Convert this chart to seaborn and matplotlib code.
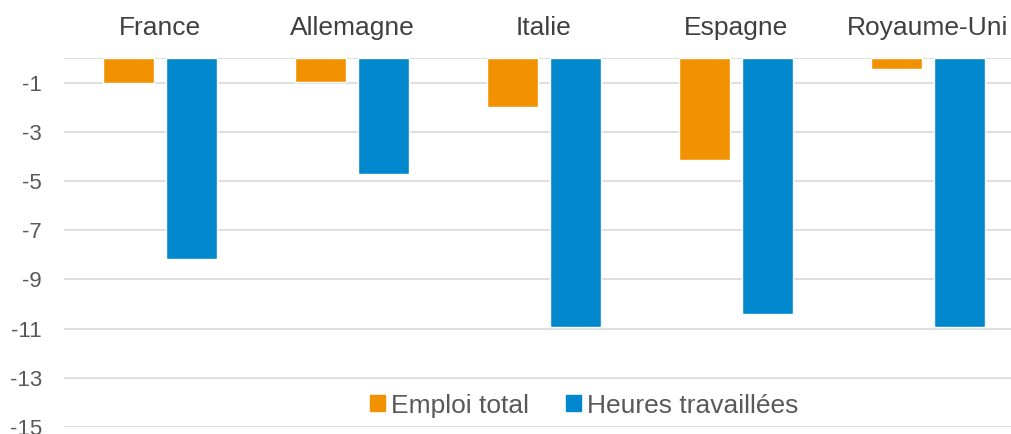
import numpy as np
import pandas as pd
import matplotlib
matplotlib.use("Agg")
import matplotlib.pyplot as plt
from matplotlib.patches import Rectangle
import seaborn as sns

pays = ["France", "Allemagne", "Italie", "Espagne", "Royaume-Uni"]
emploi_total = [-1.02, -0.96, -1.99, -4.15, -0.45]
heures_travaillees = [-8.16, -4.72, -10.93, -10.4, -10.93]
series = ["Emploi total", "Heures travaillées"]
y_ticks = [-15, -13, -11, -9, -7, -5, -3, -1, 0]

colors = ["#F39200", "#0088CE"]

df = pd.DataFrame({
    "pays": pays * 2,
    "serie": [series[0]] * len(pays) + [series[1]] * len(pays),
    "valeur": emploi_total + heures_travaillees,
})

sns.set_style("white")
plt.rcParams["font.family"] = ["Liberation Sans", "DejaVu Sans"]

W, H = 1011, 434
fig = plt.figure(figsize=(W / 100, H / 100), dpi=100)
ax = fig.add_axes([64 / W, 7 / H, 960 / W, 369 / H])

sns.barplot(data=df, x="pays", y="valeur", hue="serie", palette=colors,
            width=0.657, gap=0.19, saturation=1, ax=ax, legend=False)

ax.set_ylim(-15, 0)
ax.set_xlim(-0.5, 4.5)
ax.set_yticks(y_ticks)
ax.set_yticklabels([str(t) if t != 0 else "" for t in y_ticks])
ax.yaxis.grid(True, color="#D9D9D9", linewidth=1.2)
ax.set_axisbelow(True)
for s in ax.spines.values():
    s.set_visible(False)

ax.xaxis.tick_top()
ax.tick_params(axis="x", length=0, pad=13, labelsize=19, labelcolor="#404040")
ax.tick_params(axis="y", length=0, pad=16, labelsize=16, labelcolor="#595959")
ax.set_xlabel("")
ax.set_ylabel("")

handles = [Rectangle((0, 0), 1, 1, color=c) for c in colors]
ax.legend(handles, series, loc="center", bbox_to_anchor=(0.542, 0.058), ncol=2,
          frameon=False, fontsize=19, handlelength=0.55, handleheight=0.55,
          handletextpad=0.25, columnspacing=1.4, labelcolor="#595959")

fig.savefig("out.png", dpi=100)
